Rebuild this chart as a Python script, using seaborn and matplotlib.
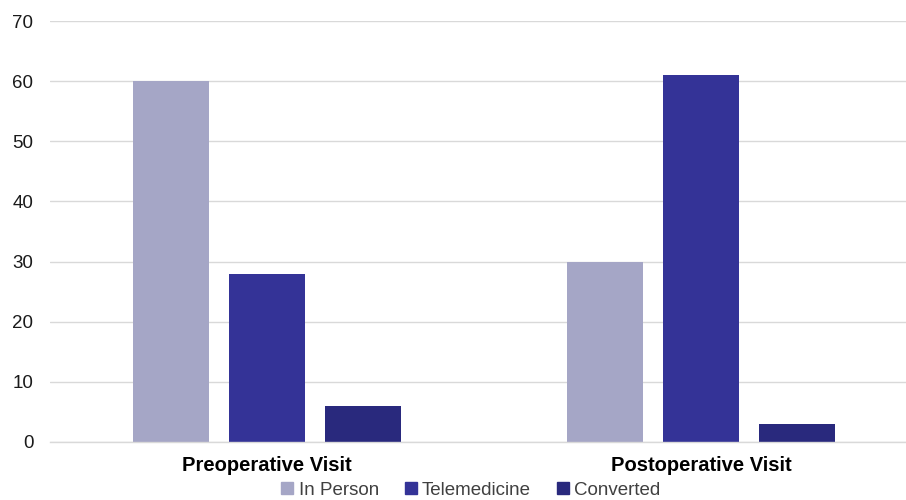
import matplotlib
matplotlib.use("Agg")
import matplotlib.pyplot as plt
from matplotlib.lines import Line2D
import seaborn as sns
import pandas as pd

categories = ["Preoperative Visit", "Postoperative Visit"]
series = ["In Person", "Telemedicine", "Converted"]
in_person = [60, 30]
telemedicine = [28, 61]
converted = [6, 3]
colors = ["#A5A6C6", "#343397", "#29297D"]
yticks = [0, 10, 20, 30, 40, 50, 60, 70]

rows = []
for s, vals in zip(series, [in_person, telemedicine, converted]):
    for c, v in zip(categories, vals):
        rows.append({"Visit": c, "Type": s, "Count": v})
df = pd.DataFrame(rows)

sns.set_theme(style="white")
plt.rcParams["font.family"] = ["Liberation Sans", "DejaVu Sans"]

fig = plt.figure(figsize=(9.06, 5), dpi=100)
ax = fig.add_axes([50 / 906, 58 / 500, 868 / 906, 421 / 500])

sns.barplot(data=df, x="Visit", y="Count", hue="Type", order=categories,
            hue_order=series, palette=colors, width=0.664, gap=0.21,
            saturation=1, ax=ax, legend=False, edgecolor="none")

ax.set_ylim(0, 70)
ax.set_xlim(-0.5, 1.5)
ax.set_yticks(yticks)
ax.set_yticklabels([str(t) for t in yticks], fontsize=13.5, color="#1a1a1a")
ax.yaxis.grid(True, color="#D9D9D9", linewidth=1)
ax.set_axisbelow(True)
for sp in ["top", "right", "left"]:
    ax.spines[sp].set_visible(False)
ax.spines["bottom"].set_color("#D9D9D9")
ax.spines["bottom"].set_linewidth(1)
ax.tick_params(axis="y", length=0, pad=12)
ax.tick_params(axis="x", length=0, pad=10)
ax.set_xticks(range(len(categories)))
ax.set_xticklabels(categories, fontsize=14.5, fontweight="bold", color="#000000")
ax.set_xlabel("")
ax.set_ylabel("")

handles = [Line2D([], [], marker="s", linestyle="none", markersize=8,
                  markerfacecolor=c, markeredgecolor=c) for c in colors]
fig.legend(handles, series, loc="center", bbox_to_anchor=(471 / 906, 0.02),
           ncol=3, frameon=False, fontsize=13.5, handlelength=0.6,
           handletextpad=0.3, columnspacing=1.4, labelcolor="#404040")

fig.savefig("out.png", dpi=100)
